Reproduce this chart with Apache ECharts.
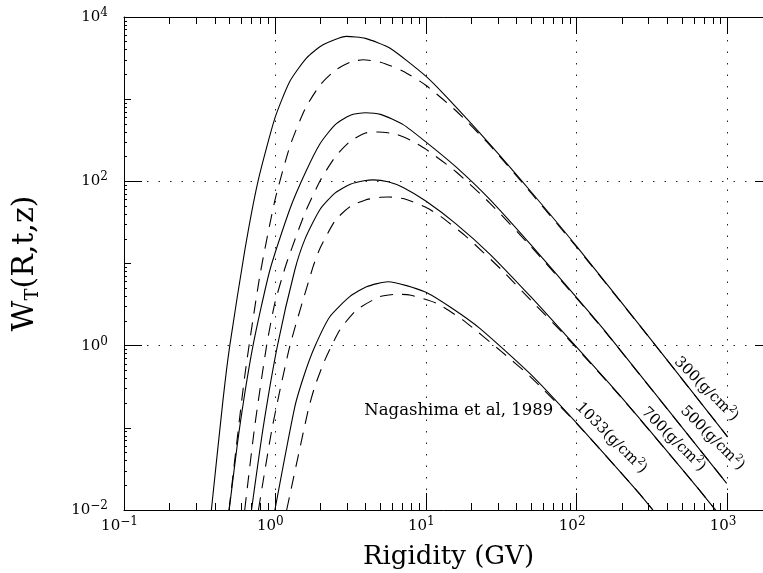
<!DOCTYPE html>
<html><head><meta charset="utf-8">
<script src="https://cdn.jsdelivr.net/npm/echarts@6/dist/echarts.min.js"></script>
<style>html,body{margin:0;padding:0;background:#fff}#c{width:763px;height:573px}</style>
</head><body><div id="c"></div>
<script>
// All values are log10(R [GV]) and log10(W_T).
const xTickExponents = [-1, 0, 1, 2, 3];
const yTickExponents = [-2, 0, 2, 4];

const solid300_logR = [-0.421, -0.344, -0.299, -0.199, -0.112, 0, 0.0985, 0.209, 0.319, 0.474, 0.6, 0.761, 1.0, 1.137, 1.424, 1.699, 2.0, 2.439, 3.0];
const solid300_logW = [-2, -0.663, 0, 1.165, 2, 2.769, 3.215, 3.5, 3.662, 3.764, 3.74, 3.622, 3.28, 3.027, 2.453, 1.87, 1.208, 0.198, -1.109];
const dashed300_logR = [-0.304, -0.2, -0.1, 0, 0.1, 0.2, 0.3, 0.4, 0.5, 0.584, 0.7, 0.85, 1.0, 1.2, 1.424, 1.699, 2.0, 2.439, 3.0];
const dashed300_logW = [-2, -0.372, 0.848, 1.768, 2.43, 2.882, 3.173, 3.352, 3.451, 3.479, 3.45, 3.341, 3.169, 2.859, 2.441, 1.855, 1.198, 0.195, -1.109];

const solid500_logR = [-0.303, -0.234, -0.145, -0.033, 0.1, 0.2, 0.3, 0.4, 0.5, 0.6, 0.7, 0.85, 1.0, 1.2, 1.424, 1.7, 2.0, 2.187, 2.994];
const solid500_logW = [-2, -1, 0, 0.921, 1.666, 2.098, 2.46, 2.69, 2.805, 2.835, 2.815, 2.69, 2.48, 2.175, 1.78, 1.22, 0.585, 0.18, -1.675];
const dashed500_logR = [-0.2, -0.135, -0.055, 0.0, 0.077, 0.2, 0.3, 0.4, 0.5, 0.6, 0.684, 0.8, 0.9, 1.0, 1.2, 1.424, 1.7, 2.0, 2.187, 2.994];
const dashed500_logW = [-2, -1, 0, 0.52, 1.003, 1.618, 2.008, 2.298, 2.488, 2.588, 2.60, 2.575, 2.50, 2.392, 2.117, 1.736, 1.20, 0.575, 0.175, -1.675];

const solid700_logR = [-0.155, -0.078, 0.017, 0.132, 0.2, 0.3, 0.4, 0.5, 0.6, 0.651, 0.75, 0.85, 1.0, 1.2, 1.424, 1.7, 1.907, 2.3, 2.77, 2.92];
const solid700_logW = [-2, -1, 0, 0.921, 1.30, 1.66, 1.86, 1.965, 2.01, 2.018, 1.995, 1.925, 1.76, 1.483, 1.115, 0.587, 0.17, -0.635, -1.66, -2];
const dashed700_logR = [-0.109, -0.018, 0.1, 0.253, 0.3, 0.4, 0.5, 0.6, 0.7, 0.75, 0.85, 1.0, 1.1, 1.27, 1.5, 1.7, 1.907, 2.3, 2.77, 2.92];
const dashed700_logW = [-2, -1, 0, 0.961, 1.189, 1.524, 1.694, 1.774, 1.806, 1.81, 1.79, 1.685, 1.57, 1.324, 0.927, 0.545, 0.155, -0.64, -1.66, -2];

const solid1033_logR = [0.0, 0.132, 0.198, 0.264, 0.364, 0.496, 0.607, 0.75, 0.993, 1.159, 1.358, 1.689, 2.0, 2.397, 2.505];
const solid1033_logW = [-2, -0.744, -0.336, -0.013, 0.352, 0.596, 0.717, 0.778, 0.657, 0.474, 0.211, -0.338, -0.944, -1.761, -2];
const dashed1033_logR = [0.078, 0.22, 0.264, 0.331, 0.43, 0.54, 0.695, 0.806, 0.894, 1.071, 1.247, 1.5, 1.689, 2.0, 2.397, 2.505];
const dashed1033_logW = [-2, -0.79, -0.50, -0.176, 0.19, 0.433, 0.596, 0.625, 0.616, 0.515, 0.311, -0.07, -0.37, -0.948, -1.761, -2];

const curveLabels = ['300', '500', '700', '1033'];
const curveLabel_logR = [2.859, 2.899, 2.641, 2.230];
const curveLabel_logW = [-0.53, -1.125, -1.14, -1.125];
const curveLabel_rot = [-45, -45, -45, -45];
const noteText = 'Nagashima et al, 1989';
const note_logR = 1.219, note_logW = -0.796;

const X_MIN = -1, X_MAX = 3.301, Y_MIN = -2, Y_MAX = 4;
const FONT = 'DejaVu Serif';

function pairs(xs, ys) { return xs.map((x, i) => [x, ys[i]]); }
function supLabel(v) {
  const e = Math.round(v);
  return '{b|10}{s|' + (e < 0 ? '\u2212' + (-e) : e) + '}';
}
const richTick = {
  b: { fontFamily: FONT, fontSize: 15, color: '#000', lineHeight: 20 },
  s: { fontFamily: FONT, fontSize: 12, color: '#000', verticalAlign: 'top', lineHeight: 12 }
};

const curves = [
  [solid300_logR, solid300_logW, 'solid'],
  [dashed300_logR, dashed300_logW, 'dashed'],
  [solid500_logR, solid500_logW, 'solid'],
  [dashed500_logR, dashed500_logW, 'dashed'],
  [solid700_logR, solid700_logW, 'solid'],
  [dashed700_logR, dashed700_logW, 'dashed'],
  [solid1033_logR, solid1033_logW, 'solid'],
  [dashed1033_logR, dashed1033_logW, 'dashed']
];

// minor tick positions (axis decoration, log10 of 2..9 x 10^n)
const xMinor = [];
for (let n = -1; n <= 3; n++) for (let k = 2; k <= 9; k++) { const v = n + Math.log10(k); if (v < X_MAX - 0.001) xMinor.push(v); }
const yMid = [-1, 1, 3];
const yMinor = [];
for (let n = -2; n < 4; n++) for (let k = 2; k <= 9; k++) yMinor.push(n + Math.log10(k));

const series = curves.map(c => ({
  type: 'line',
  data: pairs(c[0], c[1]),
  showSymbol: false,
  smooth: 0.2,
  clip: true,
  silent: true,
  lineStyle: { color: '#000', width: 1.1, type: c[2] === 'dashed' ? [13, 9] : 'solid' }
}));

series.push({
  type: 'custom', silent: true, z: 6,
  data: curveLabels.map((t, i) => [curveLabel_logR[i], curveLabel_logW[i]]),
  renderItem(params, api) {
    const i = params.dataIndex;
    const p = api.coord([curveLabel_logR[i], curveLabel_logW[i]]);
    return {
      type: 'text', x: p[0], y: p[1], rotation: curveLabel_rot[i] * Math.PI / 180,
      style: {
        text: '{a|' + curveLabels[i] + '(g/cm}{s|2}{a|)}',
        rich: { a: { fontFamily: FONT, fontSize: 15, fill: '#000', lineHeight: 19 }, s: { fontFamily: FONT, fontSize: 10, fill: '#000', verticalAlign: 'top', lineHeight: 10 } },
        align: 'center', verticalAlign: 'middle', fill: '#000', font: '15px "DejaVu Serif"'
      }
    };
  }
});

series.push({
  type: 'custom', silent: true, z: 6,
  data: [[note_logR, note_logW]],
  renderItem(params, api) {
    const p = api.coord([note_logR, note_logW]);
    return { type: 'text', x: p[0], y: p[1], style: { text: noteText, font: '16.5px "DejaVu Serif"', fill: '#000', align: 'center', verticalAlign: 'middle' } };
  }
});

const axisLineStyle = { show: true, onZero: false, lineStyle: { color: '#000', width: 1 } };
function tickAxisX(position, values, len) {
  return {
    type: 'value', min: X_MIN, max: X_MAX, position: position,
    axisLine: { show: false, onZero: false },
    axisTick: { show: true, inside: true, length: len, customValues: values, lineStyle: { color: '#000', width: 1 } },
    axisLabel: { show: false }, splitLine: { show: false }
  };
}
function tickAxisY(position, values, len) {
  return {
    type: 'value', min: Y_MIN, max: Y_MAX, position: position,
    axisLine: { show: false, onZero: false },
    axisTick: { show: true, inside: true, length: len, customValues: values, lineStyle: { color: '#000', width: 1 } },
    axisLabel: { show: false }, splitLine: { show: false }
  };
}

const chart = echarts.init(document.getElementById('c'), null, { renderer: 'canvas' });
chart.setOption({
  animation: false,
  backgroundColor: '#fff',
  grid: { left: 124, top: 17, width: 649, height: 493, show: false, containLabel: false, outerBoundsMode: 'none' },
  xAxis: [
    {
      type: 'value', min: X_MIN, max: X_MAX, interval: 1, position: 'bottom',
      axisLine: axisLineStyle,
      axisTick: { show: true, inside: true, length: 17, lineStyle: { color: '#000' } },
      axisLabel: {
        margin: 6, padding: [0, 9, 0, 0],
        formatter: v => (xTickExponents.some(e => Math.abs(e - v) < 1e-6) ? supLabel(v) : ''),
        rich: richTick, showMaxLabel: false
      },
      splitLine: { show: true, lineStyle: { color: '#222', width: 1, type: [1.5, 10] } },
      name: 'Rigidity (GV)', nameLocation: 'middle', nameGap: 34,
      nameTextStyle: { fontFamily: FONT, fontSize: 26, color: '#000' }
    },
    {
      type: 'value', min: X_MIN, max: X_MAX, interval: 1, position: 'top',
      axisLine: axisLineStyle,
      axisTick: { show: true, inside: true, length: 17, lineStyle: { color: '#000' } },
      axisLabel: { show: false }, splitLine: { show: false }
    },
    tickAxisX('bottom', xMinor, 7),
    tickAxisX('top', xMinor, 7)
  ],
  yAxis: [
    {
      type: 'value', min: Y_MIN, max: Y_MAX, interval: 2, position: 'left',
      axisLine: axisLineStyle,
      axisTick: { show: true, inside: true, length: 18, lineStyle: { color: '#000' } },
      axisLabel: { margin: 16, formatter: v => supLabel(v), rich: richTick },
      splitLine: { show: true, lineStyle: { color: '#222', width: 1, type: [1.5, 10] } },
      name: '{m|W}{t|T}{m|(R,t,z)}', nameLocation: 'middle', nameGap: 82, nameRotate: 90,
      nameTextStyle: { rich: { m: { fontFamily: FONT, fontSize: 30, color: '#000', lineHeight: 34 }, t: { fontFamily: FONT, fontSize: 18, color: '#000', verticalAlign: 'bottom', lineHeight: 18 } } }
    },
    {
      type: 'value', min: Y_MIN, max: Y_MAX, interval: 2, position: 'right',
      axisLine: axisLineStyle,
      axisTick: { show: true, inside: true, length: 18, lineStyle: { color: '#000' } },
      axisLabel: { show: false }, splitLine: { show: false }
    },
    tickAxisY('left', yMid, 7),
    tickAxisY('left', yMinor, 3),
    tickAxisY('right', yMid, 7),
    tickAxisY('right', yMinor, 3)
  ],
  series: series
});
</script></body></html>
